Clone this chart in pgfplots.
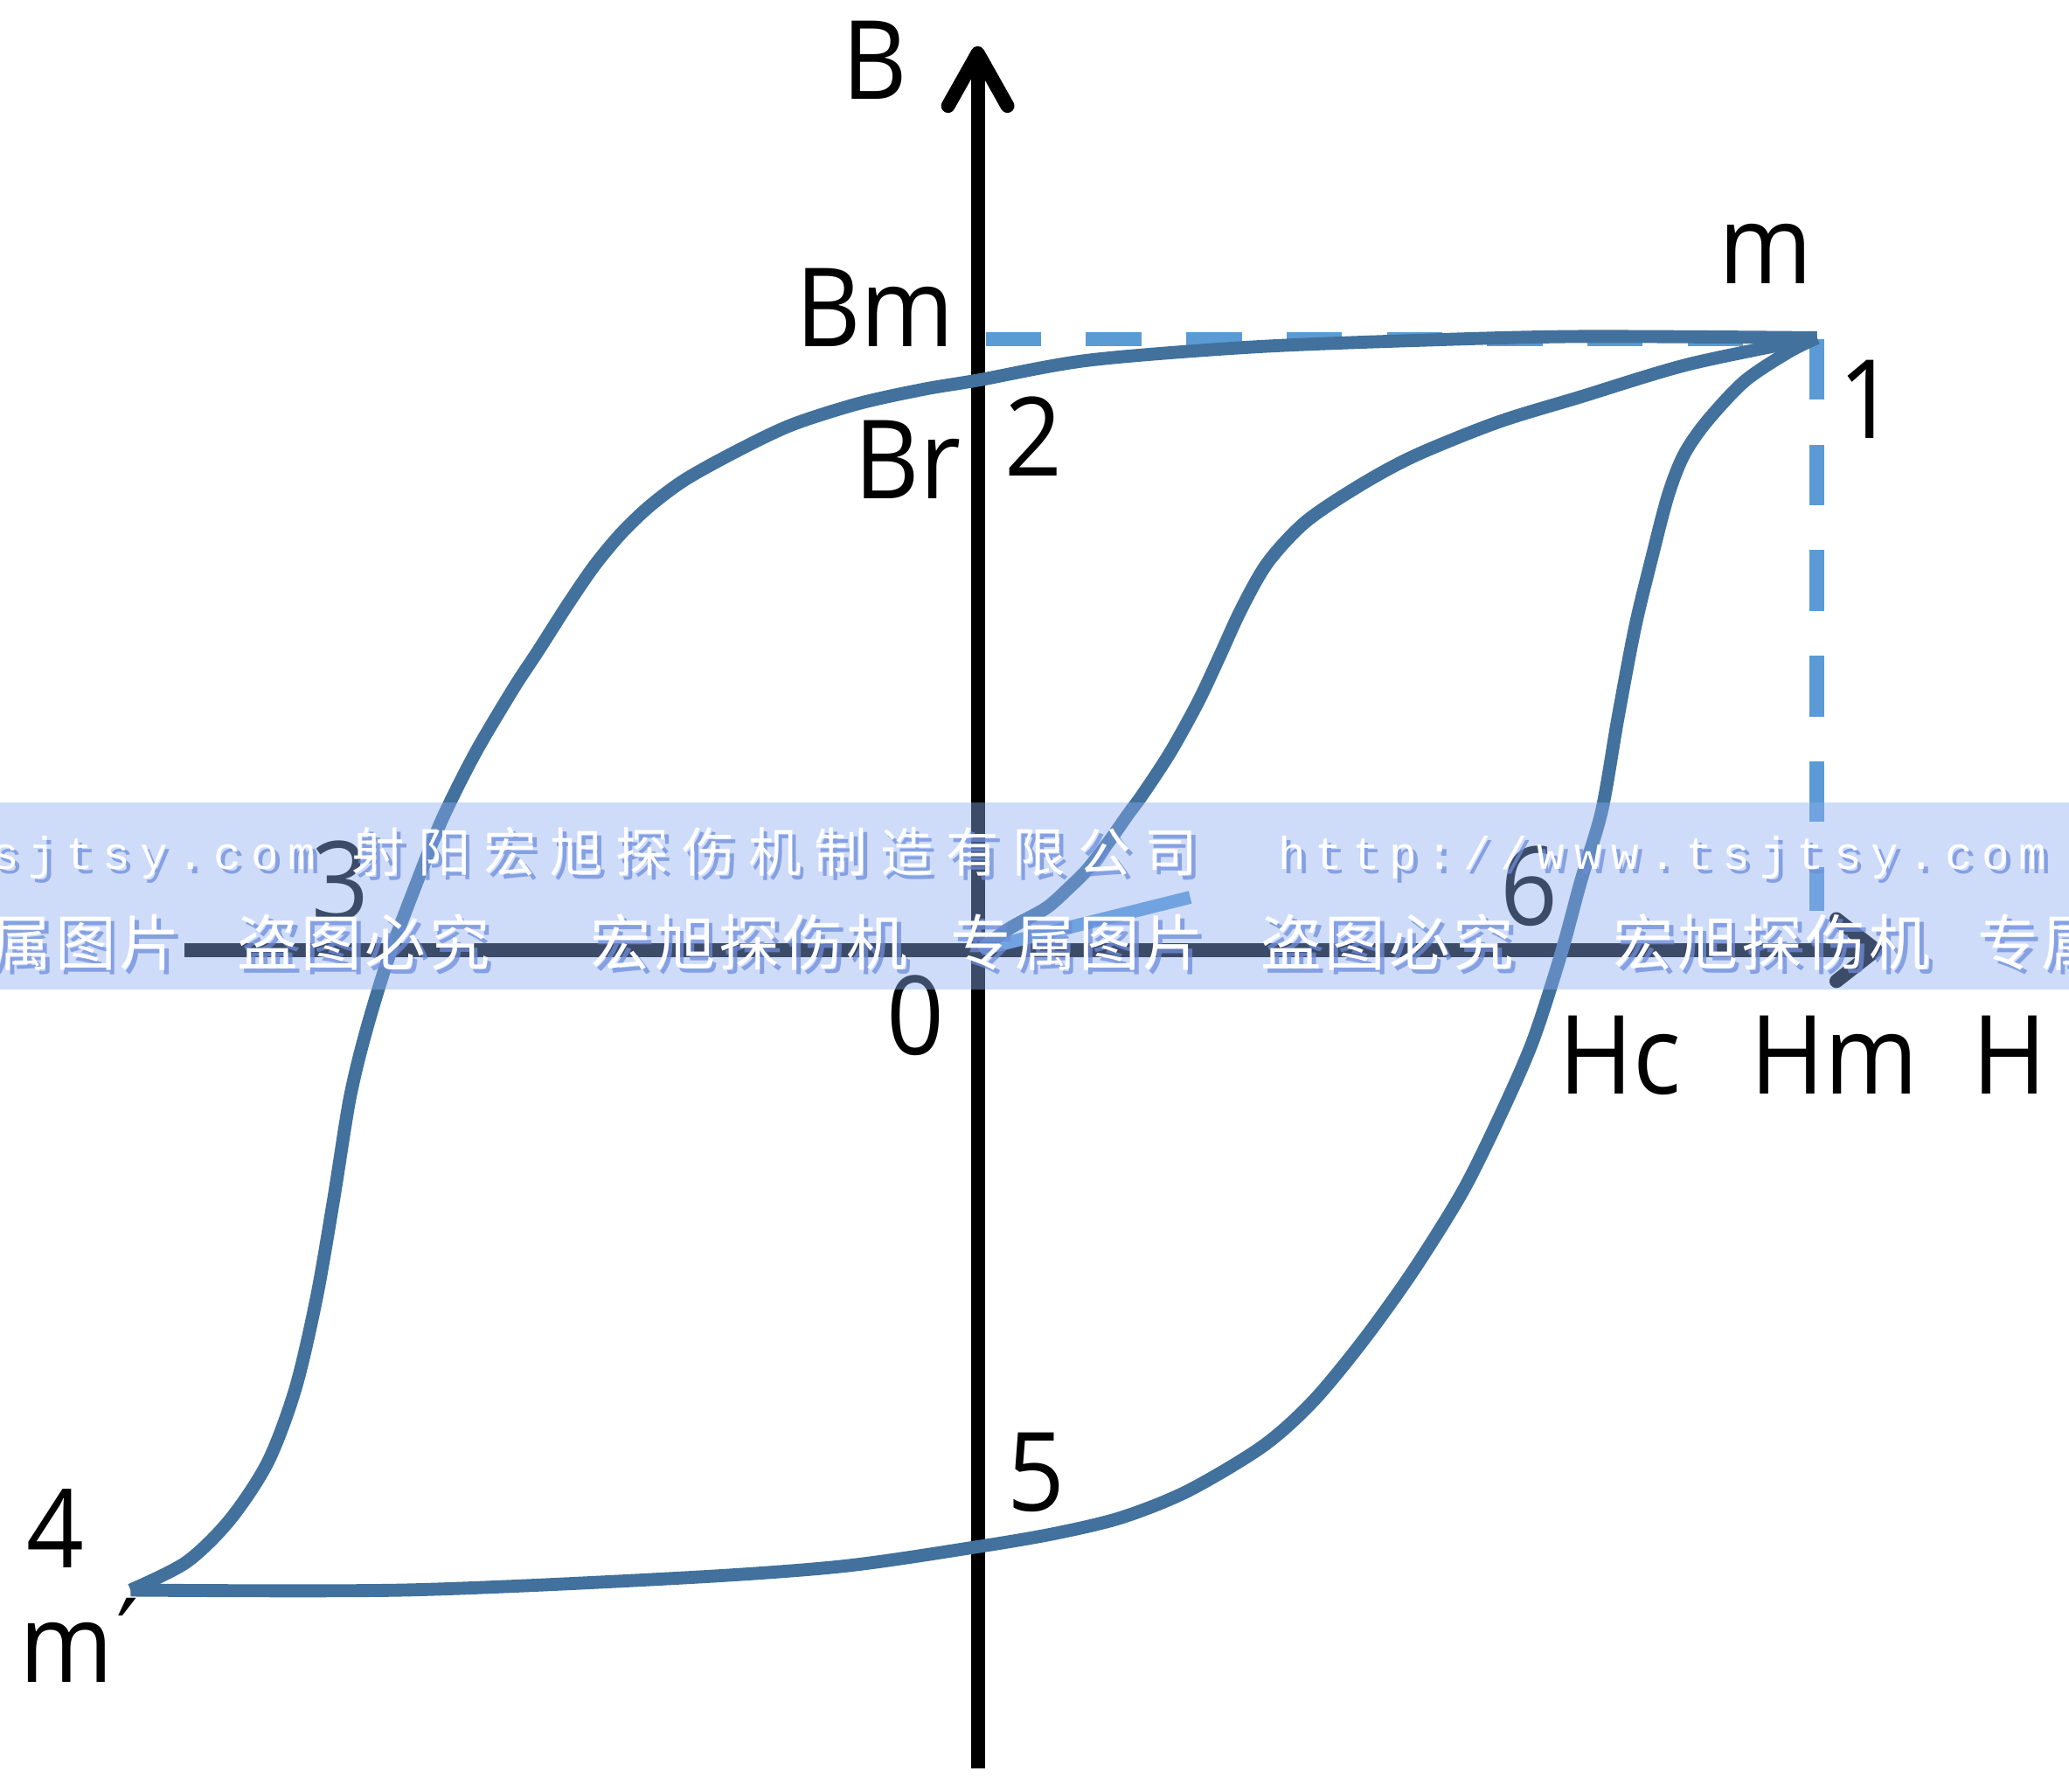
\documentclass[border=0pt]{standalone}
\usepackage{pgfplots}
\pgfplotsset{compat=1.18}
\usepackage{fontspec}
\setmainfont{Open Sans}[FakeStretch=0.92]
\newfontfamily\cjk{Noto Sans CJK SC}
\newfontfamily\wmmono{Liberation Mono}
\newfontfamily\dejavu{DejaVu Sans}
\usetikzlibrary{arrows.meta}
\definecolor{curve}{RGB}{65,113,156}
\definecolor{dashc}{RGB}{91,155,213}
\definecolor{band}{RGB}{141,174,240}
\definecolor{wmshadow}{RGB}{110,140,220}
\makeatletter
\newcommand\spaced[2]{\def\sp@sep{\hspace{#1}}\sp@aux#2\relax}
\def\sp@aux#1{\ifx\relax#1\else#1\sp@sep\expandafter\sp@aux\fi}
\makeatother
\newcommand\lab{\fontsize{23.6pt}{28pt}\selectfont}
\newcommand\wmtop{\cjk\fontsize{11.4pt}{12pt}\selectfont}
\newcommand\wmbot{\cjk\fontsize{13.1pt}{14pt}\selectfont}
\newcommand\wmlat{\wmmono\fontsize{9.9pt}{10pt}\selectfont}
\newcommand\wm[4]{%
  \node[anchor=base west, inner sep=0, text=wmshadow, text opacity=0.75, xshift=0.9pt, yshift=-0.9pt] at (axis cs:#1,#2) {#3};
  \node[anchor=base west, inner sep=0, text=white] at (axis cs:#1,#2) {#3};}
\begin{document}
\begin{tikzpicture}
\begin{axis}[
  scale only axis, width=15.68cm, height=13.58cm,
  xmin=-741, xmax=827, ymin=-638, ymax=720,
  hide axis, clip=false]
% axes
\draw[line width=3pt, -{Straight Barb[length=0.4cm,width=0.45cm,round]}] (axis cs:0,-620) -- (axis cs:0,685);
\draw[line width=3pt, -{Straight Barb[length=0.3cm,width=0.47cm,round]}] (axis cs:-601,0) -- (axis cs:686,0);
% dashed guides
\addplot[dashc, line width=3.1pt, dash pattern=on 0.42cm off 0.34cm] coordinates {(6,463) (636,463)};
\addplot[dashc, line width=3.1pt, dash pattern=on 0.46cm off 0.34cm] coordinates {(636,463) (636,30)};
% initial permeability segment
\addplot[dashc, line width=2.8pt] coordinates {(4,1) (161,40)};
% initial magnetization curve
\addplot[curve, line width=2.8pt, smooth] coordinates {
(1,0) (25,17) (52,32) (70,48) (83,61) (100,83) (114,103) (125,118) (146,150) (167,188) (183,222) (200,259) (220,294) (249,325) (291,353) (332,375) (394,400) (456,419) (539,444) (636,464)};
% descending branch
\addplot[curve, line width=2.8pt, smooth] coordinates {
(636,464) (456,465) (332,462) (208,457) (84,447) (1,432) (-41,425) (-91,414) (-141,398) (-181,379) (-221,357) (-248,337) (-270,316) (-290,292) (-310,263) (-333,227) (-352,198) (-381,149) (-406,99) (-426,49) (-447,-7) (-464,-63) (-476,-113) (-488,-188) (-501,-263) (-517,-332) (-538,-388) (-567,-432) (-600,-464) (-642,-485)};
% ascending branch
\addplot[curve, line width=2.8pt, smooth] coordinates {
(-642,-485) (-435,-485) (-228,-476) (-103,-467) (1,-452) (59,-442) (109,-430) (159,-410) (216,-376) (254,-342) (292,-296) (330,-243) (368,-182) (398,-121) (421,-68) (442,-3) (457,52) (473,106) (485,175) (498,244) (510,294) (523,344) (535,375) (552,400) (581,431) (614,453) (636,464)};
% labels
\node[anchor=base, inner sep=0] at (axis cs:-78,645) {\lab B};
\node[anchor=base east, inner sep=0] at (axis cs:-17,457) {\lab Bm};
\node[anchor=base east, inner sep=0] at (axis cs:-12,342) {\lab Br};
\node[anchor=base west, inner sep=0] at (axis cs:20,359) {\lab 2};
\node[anchor=base, inner sep=0] at (axis cs:597,505) {\lab m};
\node[anchor=base, inner sep=0] at (axis cs:674,388) {\lab 1};
\node[anchor=base, inner sep=0] at (axis cs:-483,23) {\lab 3};
\node[anchor=base, inner sep=0] at (axis cs:-47,-79) {\lab 0};
\node[anchor=base, inner sep=0] at (axis cs:418,19) {\lab 6};
\node[anchor=base west, inner sep=0] at (axis cs:440,-109) {\lab Hc};
\node[anchor=base west, inner sep=0] at (axis cs:585,-109) {\lab Hm};
\node[anchor=base west, inner sep=0] at (axis cs:753,-109) {\lab H};
\node[anchor=base, inner sep=0] at (axis cs:-699,-468) {\lab 4};
\node[anchor=base west, inner sep=0] at (axis cs:-727,-555) {\lab m\kern0.03em\raisebox{0.1cm}{\dejavu\fontsize{21pt}{24pt}\selectfont ′}};
\node[anchor=base west, inner sep=0] at (axis cs:22,-425) {\lab 5};
% watermark band
\fill[band, opacity=0.43] (axis cs:-741,112) rectangle (axis cs:827,-30);
\wm{-776}{61}{\wmlat\spaced{0.072cm}{tsjtsy.com}}{}
\wm{-475}{59}{\wmtop\spaced{0.10cm}{射阳宏旭探伤机制造有限公司}}{}
\wm{227}{61}{\wmlat\spaced{0.072cm}{http://www.tsjtsy.com}}{}
\wm{-797}{-12}{\wmbot\spaced{0.025cm}{专属图片}}{}
\wm{-562}{-12}{\wmbot\spaced{0.025cm}{盗图必究}}{}
\wm{-294}{-12}{\wmbot\spaced{0.025cm}{宏旭探伤机}}{}
\wm{-21}{-12}{\wmbot\spaced{0.025cm}{专属图片}}{}
\wm{214}{-12}{\wmbot\spaced{0.025cm}{盗图必究}}{}
\wm{481}{-12}{\wmbot\spaced{0.025cm}{宏旭探伤机}}{}
\wm{757}{-12}{\wmbot\spaced{0.025cm}{专属图片}}{}
\end{axis}
\pgfresetboundingbox
\path (current axis.south west) rectangle (current axis.north east);
\end{tikzpicture}
\end{document}
